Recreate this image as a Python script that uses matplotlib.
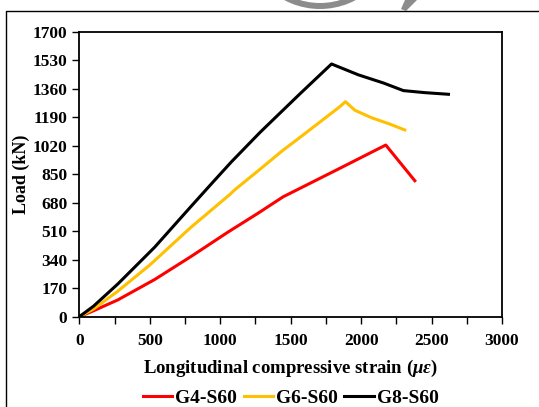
import matplotlib.pyplot as plt
from matplotlib.patches import Wedge, Polygon
from matplotlib.ticker import MultipleLocator

plt.rcParams['font.family'] = 'Liberation Serif'
plt.rcParams['font.weight'] = 'bold'
plt.rcParams['mathtext.fontset'] = 'custom'
plt.rcParams['mathtext.rm'] = 'Liberation Serif:bold'
plt.rcParams['mathtext.it'] = 'Liberation Serif:italic:bold'
plt.rcParams['mathtext.bf'] = 'Liberation Serif:bold'

# load-strain curves of the three columns
g4_strain = [0, 100, 273, 535, 794, 1055, 1267, 1447, 1849, 2175, 2381]
g4_load = [0, 35, 100, 222, 360, 505, 617, 716, 886, 1025, 812]

g6_strain = [0, 100, 273, 501, 790, 1069, 1100, 1305, 1447, 1542, 1849, 1889,
             1955, 2074, 2204, 2310]
g6_load = [0, 45, 152, 309, 532, 730, 755, 896, 995, 1055, 1254, 1284,
           1233, 1188, 1150, 1115]

g8_strain = [0, 100, 273, 535, 800, 950, 1080, 1282, 1565, 1790, 1981, 2160, 2300,
             2450, 2620]
g8_load = [0, 62, 195, 415, 665, 805, 925, 1100, 1330, 1509, 1444, 1395, 1350,
           1338, 1328]

labels = ["G4-S60", "G6-S60", "G8-S60"]
colors = ["#ff0000", "#ffc000", "#000000"]

fig = plt.figure(figsize=(5.39, 4.07), dpi=100)

# background layer in pixel coordinates: page border and faded logo
bg = fig.add_axes([0, 0, 1, 1], zorder=-1)
bg.set_xlim(0, 539)
bg.set_ylim(407, 0)
bg.axis("off")
bg.plot([6, 6, 545], [420, 11, 11], color="black", lw=1.0)
bg.add_patch(Wedge((320, -67), 76, 0, 360, width=6, color="#8c8c8c", lw=0))
bg.add_patch(Polygon([[405, 0], [417, 0], [406, 11], [401, 9]], closed=True,
                     color="#8c8c8c", lw=0))

ax = fig.add_axes([0.1471, 0.2219, 0.7843, 0.6995])
for s, l, lab, c in zip([g4_strain, g6_strain, g8_strain],
                        [g4_load, g6_load, g8_load], labels, colors):
    ax.plot(s, l, color=c, lw=2.2, label=lab)

ax.set_xlim(0, 3000)
ax.set_ylim(0, 1700)
ax.xaxis.set_major_locator(MultipleLocator(500))
ax.xaxis.set_minor_locator(MultipleLocator(250))
ax.yaxis.set_major_locator(MultipleLocator(170))
ax.tick_params(which="both", direction="out", length=5, width=1, labelsize=12.5)
ax.tick_params(axis="x", pad=7)
for sp in ax.spines.values():
    sp.set_linewidth(1.3)

ax.set_xlabel(r"Longitudinal compressive strain ($\mu\varepsilon$)", fontsize=13.5,
              fontweight="bold", labelpad=6)
ax.set_ylabel("Load (kN)", fontsize=13, fontweight="bold", labelpad=2)

ax.legend(loc="center", bbox_to_anchor=(0.5, -0.285), ncol=3, frameon=False,
          fontsize=14, handlelength=1.5, handletextpad=0.15, columnspacing=0.35,
          borderaxespad=0)

fig.savefig("out.png", dpi=100)
